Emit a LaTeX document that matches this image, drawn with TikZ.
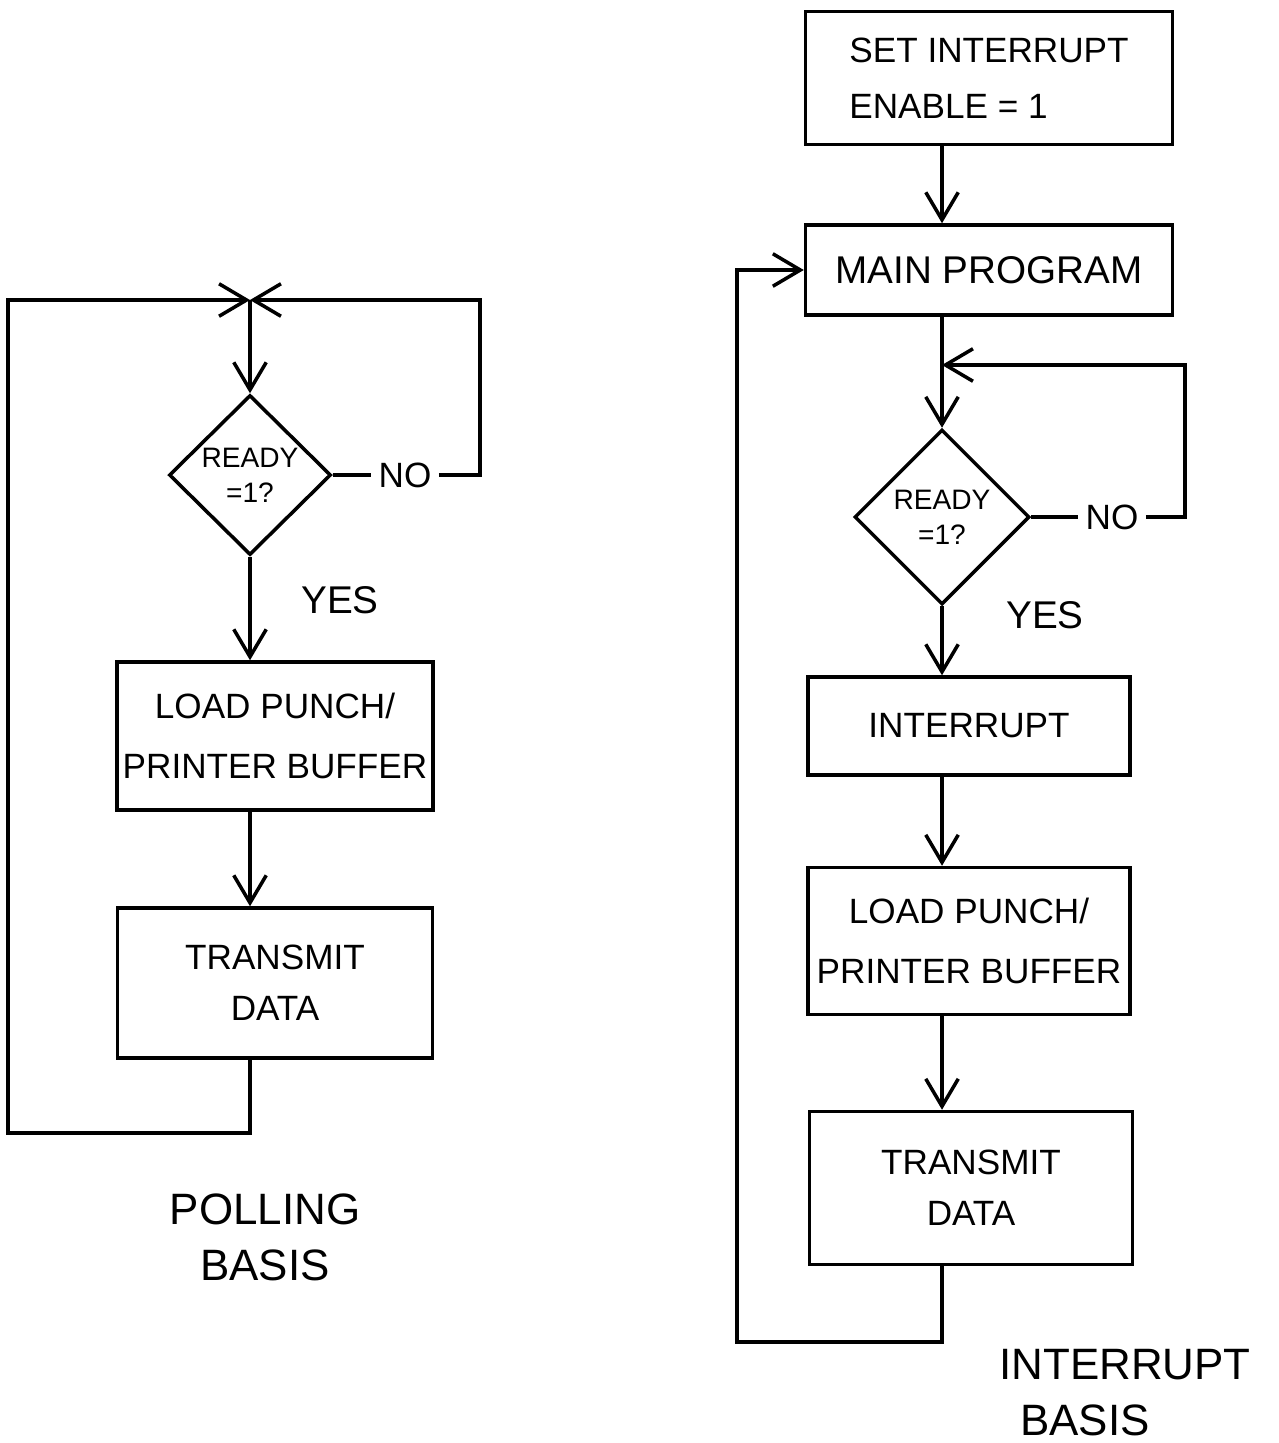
\documentclass[tikz,border=0pt]{standalone}
\usepackage{fontspec}
\setmainfont{Liberation Sans}
\usetikzlibrary{arrows.meta,shapes.geometric}

\begin{document}
\begin{tikzpicture}[x=0.02cm,y=-0.02cm,line width=2pt,
  >={Straight Barb[length=5.5mm,width=6.5mm]},
  block/.style={draw,align=center,font=\fontsize{20}{32}\selectfont},
  decision/.style={diamond,draw,inner sep=0pt,align=center,
    font=\fontsize{16}{20}\selectfont},
  tag/.style={font=\fontsize{22}{28}\selectfont},
  title/.style={align=center,font=\fontsize{25}{32}\selectfont}]
  \useasboundingbox (0,0) rectangle (1278,1443);

  \node[decision,minimum width=3.24cm,minimum height=3.2cm] (ready1) at (250,475) {READY\\=1?};
  \node[block,minimum width=6.28cm,minimum height=2.96cm,font=\fontsize{20}{34}\selectfont] (load1) at (275,736) {LOAD PUNCH/\\PRINTER BUFFER};
  \node[block,minimum width=6.3cm,minimum height=3cm,font=\fontsize{20}{29}\selectfont] (send1) at (275,983) {TRANSMIT\\DATA};
  \node[tag,font=\fontsize{20}{24}\selectfont] (no1) at (405,475) {NO};
  \node[tag] (yes1) at (340,600) {YES};
  \node[title] (title1) at (265,1237) {POLLING\\BASIS};
  \coordinate (join1) at (250,300);
  \coordinate (turn1) at (480,300);
  \coordinate (back1) at (8,1133);

  \draw[->] (join1) -- (ready1.north);
  \draw (ready1.east) -- (no1.west);
  \draw[->] (no1.east) -| (turn1) -- (join1);
  \draw[->] (ready1.south) -- (load1.north -| ready1);
  \draw[->] (load1.south -| ready1) -- (send1.north -| ready1);
  \draw[->] (send1.south -| ready1) |- (back1) |- (join1);

  \node[block,align=left,minimum width=7.34cm,minimum height=2.66cm] (enable) at (989,78) {SET INTERRUPT\\ENABLE = 1};
  \node[block,minimum width=7.34cm,minimum height=1.8cm,font=\fontsize{22}{28}\selectfont] (main) at (989,270) {MAIN PROGRAM};
  \node[decision,minimum width=3.5cm,minimum height=3.5cm] (ready2) at (942,517) {READY\\=1?};
  \node[block,minimum width=6.44cm,minimum height=1.96cm] (intr) at (969,726) {INTERRUPT};
  \node[block,minimum width=6.44cm,minimum height=2.94cm,font=\fontsize{20}{34}\selectfont] (load2) at (969,941) {LOAD PUNCH/\\PRINTER BUFFER};
  \node[block,minimum width=6.46cm,minimum height=3.06cm,font=\fontsize{20}{29}\selectfont] (send2) at (971,1188) {TRANSMIT\\DATA};
  \node[tag,font=\fontsize{20}{24}\selectfont] (no2) at (1112,517) {NO};
  \node[tag] (yes2) at (1045,615) {YES};
  \node[title] (title2a) at (1125,1365) {INTERRUPT};
  \node[title] (title2b) at (1085,1420) {BASIS};
  \coordinate (join2) at (942,365);
  \coordinate (turn2) at (1185,365);
  \coordinate (back2) at (737,1342);

  \draw[->] (enable.south -| ready2) -- (main.north -| ready2);
  \draw[->] (main.south -| ready2) -- (ready2.north);
  \draw (ready2.east) -- (no2.west);
  \draw[->] (no2.east) -| (turn2) -- (join2);
  \draw[->] (ready2.south) -- (intr.north -| ready2);
  \draw[->] (intr.south -| ready2) -- (load2.north -| ready2);
  \draw[->] (load2.south -| ready2) -- (send2.north -| ready2);
  \draw[->] (send2.south -| ready2) |- (back2) |- (main.west);
\end{tikzpicture}
\end{document}
